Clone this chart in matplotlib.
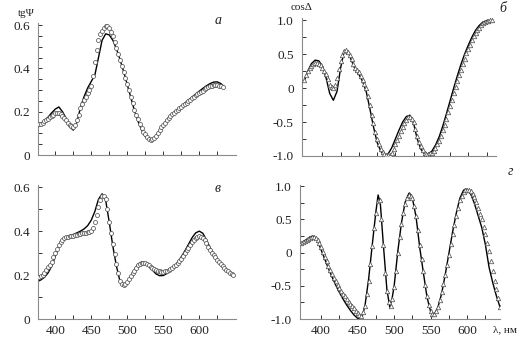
import numpy as np
import matplotlib
matplotlib.use("Agg")
import matplotlib.pyplot as plt
from matplotlib.ticker import MultipleLocator, FixedLocator

plt.rcParams['font.family'] = ['Liberation Serif', 'DejaVu Serif']

# ---------------- data ----------------
# panel а : tgPsi
wl_a = np.arange(375, 633, 2.5)
tg_a_exp = [0.138, 0.141, 0.145, 0.150, 0.155, 0.161, 0.168, 0.174, 0.180, 0.186,
            0.192, 0.195, 0.195, 0.189, 0.180, 0.170, 0.160, 0.150, 0.140, 0.133,
            0.130, 0.140, 0.160, 0.187, 0.215, 0.237, 0.255, 0.270, 0.285, 0.300,
            0.320, 0.365, 0.430, 0.485, 0.530, 0.558, 0.575, 0.588, 0.595, 0.594,
            0.585, 0.570, 0.550, 0.523, 0.495, 0.468, 0.440, 0.412, 0.385, 0.358,
            0.330, 0.300, 0.270, 0.240, 0.210, 0.186, 0.165, 0.144, 0.125, 0.108,
            0.095, 0.082, 0.072, 0.068, 0.072, 0.080, 0.090, 0.102, 0.115, 0.128,
            0.140, 0.150, 0.160, 0.170, 0.180, 0.188, 0.195, 0.203, 0.210, 0.216,
            0.222, 0.229, 0.235, 0.242, 0.248, 0.255, 0.262, 0.268, 0.275, 0.282,
            0.288, 0.293, 0.298, 0.303, 0.308, 0.313, 0.318, 0.320, 0.322, 0.323,
            0.323, 0.321, 0.318, 0.314]
wl_a_th = np.arange(375, 640, 5)
tg_a_th = [0.135, 0.145, 0.160, 0.175, 0.195, 0.212, 0.222, 0.200, 0.170, 0.130,
           0.115, 0.150, 0.220, 0.270, 0.310, 0.340, 0.370, 0.450, 0.530, 0.560,
           0.555, 0.530, 0.490, 0.440, 0.385, 0.325, 0.265, 0.205, 0.155, 0.115,
           0.085, 0.068, 0.070, 0.090, 0.115, 0.140, 0.162, 0.182, 0.198, 0.212,
           0.226, 0.240, 0.254, 0.268, 0.282, 0.295, 0.308, 0.320, 0.330, 0.337,
           0.338, 0.330, 0.315]

# panel б : cosDelta
wl_b = np.arange(375, 633, 2.5)
cos_b_exp = [0.12, 0.19, 0.25, 0.29, 0.33, 0.355, 0.37, 0.37, 0.36, 0.335,
             0.30, 0.255, 0.20, 0.13, 0.05, 0.01, 0.00, 0.05, 0.15, 0.28,
             0.40, 0.49, 0.55, 0.56, 0.53, 0.48, 0.42, 0.36, 0.30, 0.26,
             0.23, 0.18, 0.12, 0.06, 0.00, -0.12, -0.25, -0.39, -0.52, -0.64,
             -0.75, -0.83, -0.90, -0.94, -0.97, -0.99, -0.99, -0.98, -0.95, -0.89,
             -0.82, -0.76, -0.70, -0.63, -0.57, -0.52, -0.47, -0.43, -0.42, -0.45,
             -0.50, -0.60, -0.70, -0.79, -0.86, -0.91, -0.95, -0.97, -0.97, -0.96,
             -0.95, -0.92, -0.88, -0.83, -0.78, -0.70, -0.62, -0.54, -0.45, -0.36,
             -0.27, -0.17, -0.08, 0.01, 0.10, 0.19, 0.27, 0.35, 0.43, 0.51,
             0.58, 0.64, 0.70, 0.76, 0.81, 0.85, 0.89, 0.92, 0.95, 0.97,
             0.98, 0.99, 1.00, 1.00]
wl_b_th = np.arange(375, 630, 5)
cos_b_th = [0.10, 0.25, 0.36, 0.41, 0.40, 0.32, 0.15, -0.08, -0.18, -0.05,
            0.30, 0.55, 0.54, 0.40, 0.27, 0.20, 0.10, -0.05, -0.30, -0.57,
            -0.80, -0.93, -0.99, -0.97, -0.88, -0.75, -0.62, -0.50, -0.42, -0.40,
            -0.52, -0.75, -0.90, -0.97, -0.97, -0.93, -0.84, -0.72, -0.56, -0.38,
            -0.19, 0.00, 0.18, 0.35, 0.50, 0.63, 0.75, 0.85, 0.92, 0.97,
            0.99]

# panel в : tgPsi
wl_c = np.arange(375, 648, 2.5)
tg_c_exp = [0.185, 0.189, 0.195, 0.202, 0.210, 0.222, 0.235, 0.247, 0.260, 0.280,
            0.300, 0.318, 0.335, 0.349, 0.360, 0.367, 0.372, 0.375, 0.377, 0.378,
            0.380, 0.382, 0.384, 0.386, 0.388, 0.390, 0.392, 0.393, 0.395, 0.397,
            0.400, 0.415, 0.440, 0.475, 0.510, 0.540, 0.560, 0.560, 0.545, 0.500,
            0.440, 0.390, 0.340, 0.295, 0.250, 0.210, 0.175, 0.158, 0.155, 0.160,
            0.170, 0.182, 0.195, 0.208, 0.220, 0.233, 0.245, 0.251, 0.255, 0.256,
            0.255, 0.250, 0.245, 0.238, 0.232, 0.227, 0.222, 0.219, 0.217, 0.216,
            0.215, 0.217, 0.220, 0.224, 0.228, 0.234, 0.240, 0.247, 0.255, 0.265,
            0.275, 0.287, 0.300, 0.312, 0.325, 0.338, 0.350, 0.361, 0.370, 0.375,
            0.377, 0.375, 0.370, 0.358, 0.345, 0.330, 0.315, 0.302, 0.290, 0.280,
            0.270, 0.260, 0.250, 0.241, 0.232, 0.225, 0.218, 0.211, 0.205, 0.200]
wl_c_th = np.arange(375, 650, 5)
tg_c_th = [0.170, 0.178, 0.190, 0.210, 0.240, 0.285, 0.330, 0.360, 0.370, 0.378,
           0.385, 0.392, 0.400, 0.410, 0.425, 0.450, 0.490, 0.545, 0.570, 0.540,
           0.440, 0.330, 0.240, 0.170, 0.148, 0.165, 0.195, 0.225, 0.250, 0.260,
           0.255, 0.240, 0.222, 0.205, 0.197, 0.198, 0.207, 0.220, 0.237, 0.258,
           0.283, 0.310, 0.340, 0.370, 0.392, 0.400, 0.390, 0.360, 0.325, 0.295,
           0.270, 0.250, 0.232, 0.215, 0.200]

# panel г : cosDelta
wl_d = np.arange(370, 646, 2.5)
cos_d_exp = [0.15, 0.15, 0.16, 0.17, 0.19, 0.21, 0.22, 0.23, 0.23, 0.22,
             0.19, 0.14, 0.08, 0.01, -0.06, -0.13, -0.20, -0.26, -0.32, -0.38,
             -0.43, -0.48, -0.53, -0.58, -0.62, -0.66, -0.70, -0.74, -0.77, -0.81,
             -0.84, -0.88, -0.91, -0.94, -0.95, -0.90, -0.80, -0.63, -0.42, -0.17,
             0.10, 0.37, 0.60, 0.78, 0.80, 0.50, 0.12, -0.30, -0.58, -0.75,
             -0.80, -0.70, -0.52, -0.27, 0.00, 0.23, 0.43, 0.60, 0.74, 0.83,
             0.87, 0.86, 0.82, 0.71, 0.56, 0.34, 0.12, -0.09, -0.28, -0.48,
             -0.65, -0.79, -0.88, -0.92, -0.92, -0.88, -0.82, -0.72, -0.60, -0.47,
             -0.33, -0.18, -0.03, 0.13, 0.28, 0.42, 0.56, 0.68, 0.79, 0.86,
             0.91, 0.94, 0.95, 0.95, 0.93, 0.89, 0.84, 0.77, 0.68, 0.59,
             0.50, 0.39, 0.28, 0.15, 0.02, -0.13, -0.28, -0.42, -0.55, -0.69,
             -0.82]
wl_d_th = [370, 375, 380, 385, 389, 395, 400, 405, 410, 415, 420, 425, 430, 435,
           440, 445, 450, 453, 456, 460, 465, 470, 475, 478, 481, 485, 490, 494,
           497, 500, 505, 510, 515, 520, 521, 525, 530, 535, 540, 545, 550, 553,
           556, 560, 565, 570, 575, 580, 585, 590, 595, 598, 600, 605, 610, 615,
           620, 625, 630, 635, 640, 645]
cos_d_th = [0.13, 0.16, 0.20, 0.24, 0.25, 0.18, 0.04, -0.10, -0.24, -0.37, -0.49,
            -0.60, -0.70, -0.79, -0.87, -0.94, -0.99, -1.00, -0.97, -0.80, -0.40,
            0.12, 0.62, 0.87, 0.75, 0.15, -0.55, -0.82, -0.70, -0.50, 0.02, 0.45,
            0.76, 0.89, 0.90, 0.82, 0.54, 0.08, -0.30, -0.67, -0.89, -0.93, -0.91,
            -0.82, -0.62, -0.33, -0.01, 0.31, 0.59, 0.82, 0.94, 0.96, 0.95, 0.88,
            0.74, 0.56, 0.38, 0.12, -0.22, -0.45, -0.65, -0.82]

# ---------------- figure ----------------
W, H = 527, 348
fig = plt.figure(figsize=(W / 100, H / 100), dpi=100)


def px_axes(l, t, r, b):
    return fig.add_axes([l / W, 1 - b / H, (r - l) / W, (b - t) / H])


SP = '#8a8a8a'
TXT = '#222222'
MK = '#555555'
FS = 9.5


def style(ax, xlim, ylim, ymaj, ymin, ylabels, xlabels):
    ax.set_xlim(*xlim)
    ax.set_ylim(*ylim)
    for s in ('top', 'right'):
        ax.spines[s].set_visible(False)
    for s in ('left', 'bottom'):
        ax.spines[s].set_color(SP)
        ax.spines[s].set_linewidth(0.8)
    ax.xaxis.set_major_locator(FixedLocator([400, 450, 500, 550, 600]))
    ax.xaxis.set_minor_locator(FixedLocator([425, 475, 525, 575, 625]))
    ax.yaxis.set_major_locator(FixedLocator(ymaj))
    ax.yaxis.set_minor_locator(MultipleLocator(ymin))
    ax.set_yticklabels(ylabels)
    if xlabels:
        ax.set_xticklabels(['400', '450', '500', '550', '600'])
    else:
        ax.set_xticklabels([])
    ax.tick_params(which='both', direction='in', length=3, width=0.7,
                   color='#333333', labelsize=FS, labelcolor=TXT)
    ax.tick_params(axis='x', which='both', pad=4)
    ax.tick_params(axis='y', which='both', pad=6)


tg_maj = [0, 0.2, 0.4, 0.6]
tg_lab = ['0', '0.2', '0.4', '0.6']
cs_maj = [-1.0, -0.5, 0, 0.5, 1.0]
cs_lab = ['-1.0', '-0.5', '0', '0.5', '1.0']

circ = dict(linestyle='none', marker='o', markersize=2.9, markerfacecolor='white',
            markeredgecolor=MK, markeredgewidth=0.55)
tri = dict(linestyle='none', marker='^', markersize=3.2, markerfacecolor='white',
           markeredgecolor=MK, markeredgewidth=0.55)
line = dict(color='black', linewidth=1.0)

# а
ax = px_axes(38, 23, 236, 155)
ax.plot(wl_a_th, tg_a_th, **line, zorder=2)
ax.plot(wl_a, tg_a_exp, **circ, zorder=3)
style(ax, (376, 651), (0, 0.61), tg_maj, 0.05, tg_lab, False)
fig.text(218 / W, 1 - 20 / H, 'а', fontsize=10, style='italic',
         ha='center', va='center', color=TXT)
fig.text(26 / W, 1 - 13 / H, 'tgΨ', fontsize=8, ha='center', va='center', color=TXT)

# б
ax = px_axes(302, 18, 496, 156)
ax.plot(wl_b_th, cos_b_th, **line, zorder=2)
ax.plot(wl_b, cos_b_exp, **tri, zorder=3)
style(ax, (372, 638), (-1.0, 1.03), cs_maj, 0.25, cs_lab, False)
fig.text(302 / W, 1 - 8 / H, 'cosΔ', fontsize=8, ha='center', va='center', color=TXT)
fig.text(503 / W, 1 - 8 / H, 'б', fontsize=10, style='italic', ha='center',
         va='center', color=TXT)

# в
ax = px_axes(38, 185, 236, 319)
ax.plot(wl_c_th, tg_c_th, **line, zorder=2)
ax.plot(wl_c, tg_c_exp, **circ, zorder=3)
style(ax, (376, 651), (0, 0.61), tg_maj, 0.1, tg_lab, True)
fig.text(218 / W, 1 - 188 / H, 'в', fontsize=10, style='italic', ha='center',
         va='center', color=TXT)

# г
ax = px_axes(300, 185, 500, 319)
ax.plot(wl_d_th, cos_d_th, **line, zorder=2)
ax.plot(wl_d, cos_d_exp, **tri, zorder=3)
style(ax, (371, 645), (-1.0, 1.02), cs_maj, 0.25, cs_lab, True)
fig.text(505 / W, 1 - 330 / H, 'λ, нм', fontsize=8, ha='center', va='center',
         color=TXT)
fig.text(510 / W, 1 - 172 / H, 'г', fontsize=10, style='italic', ha='center',
         va='center', color=TXT)

fig.savefig('out.png', dpi=100)
